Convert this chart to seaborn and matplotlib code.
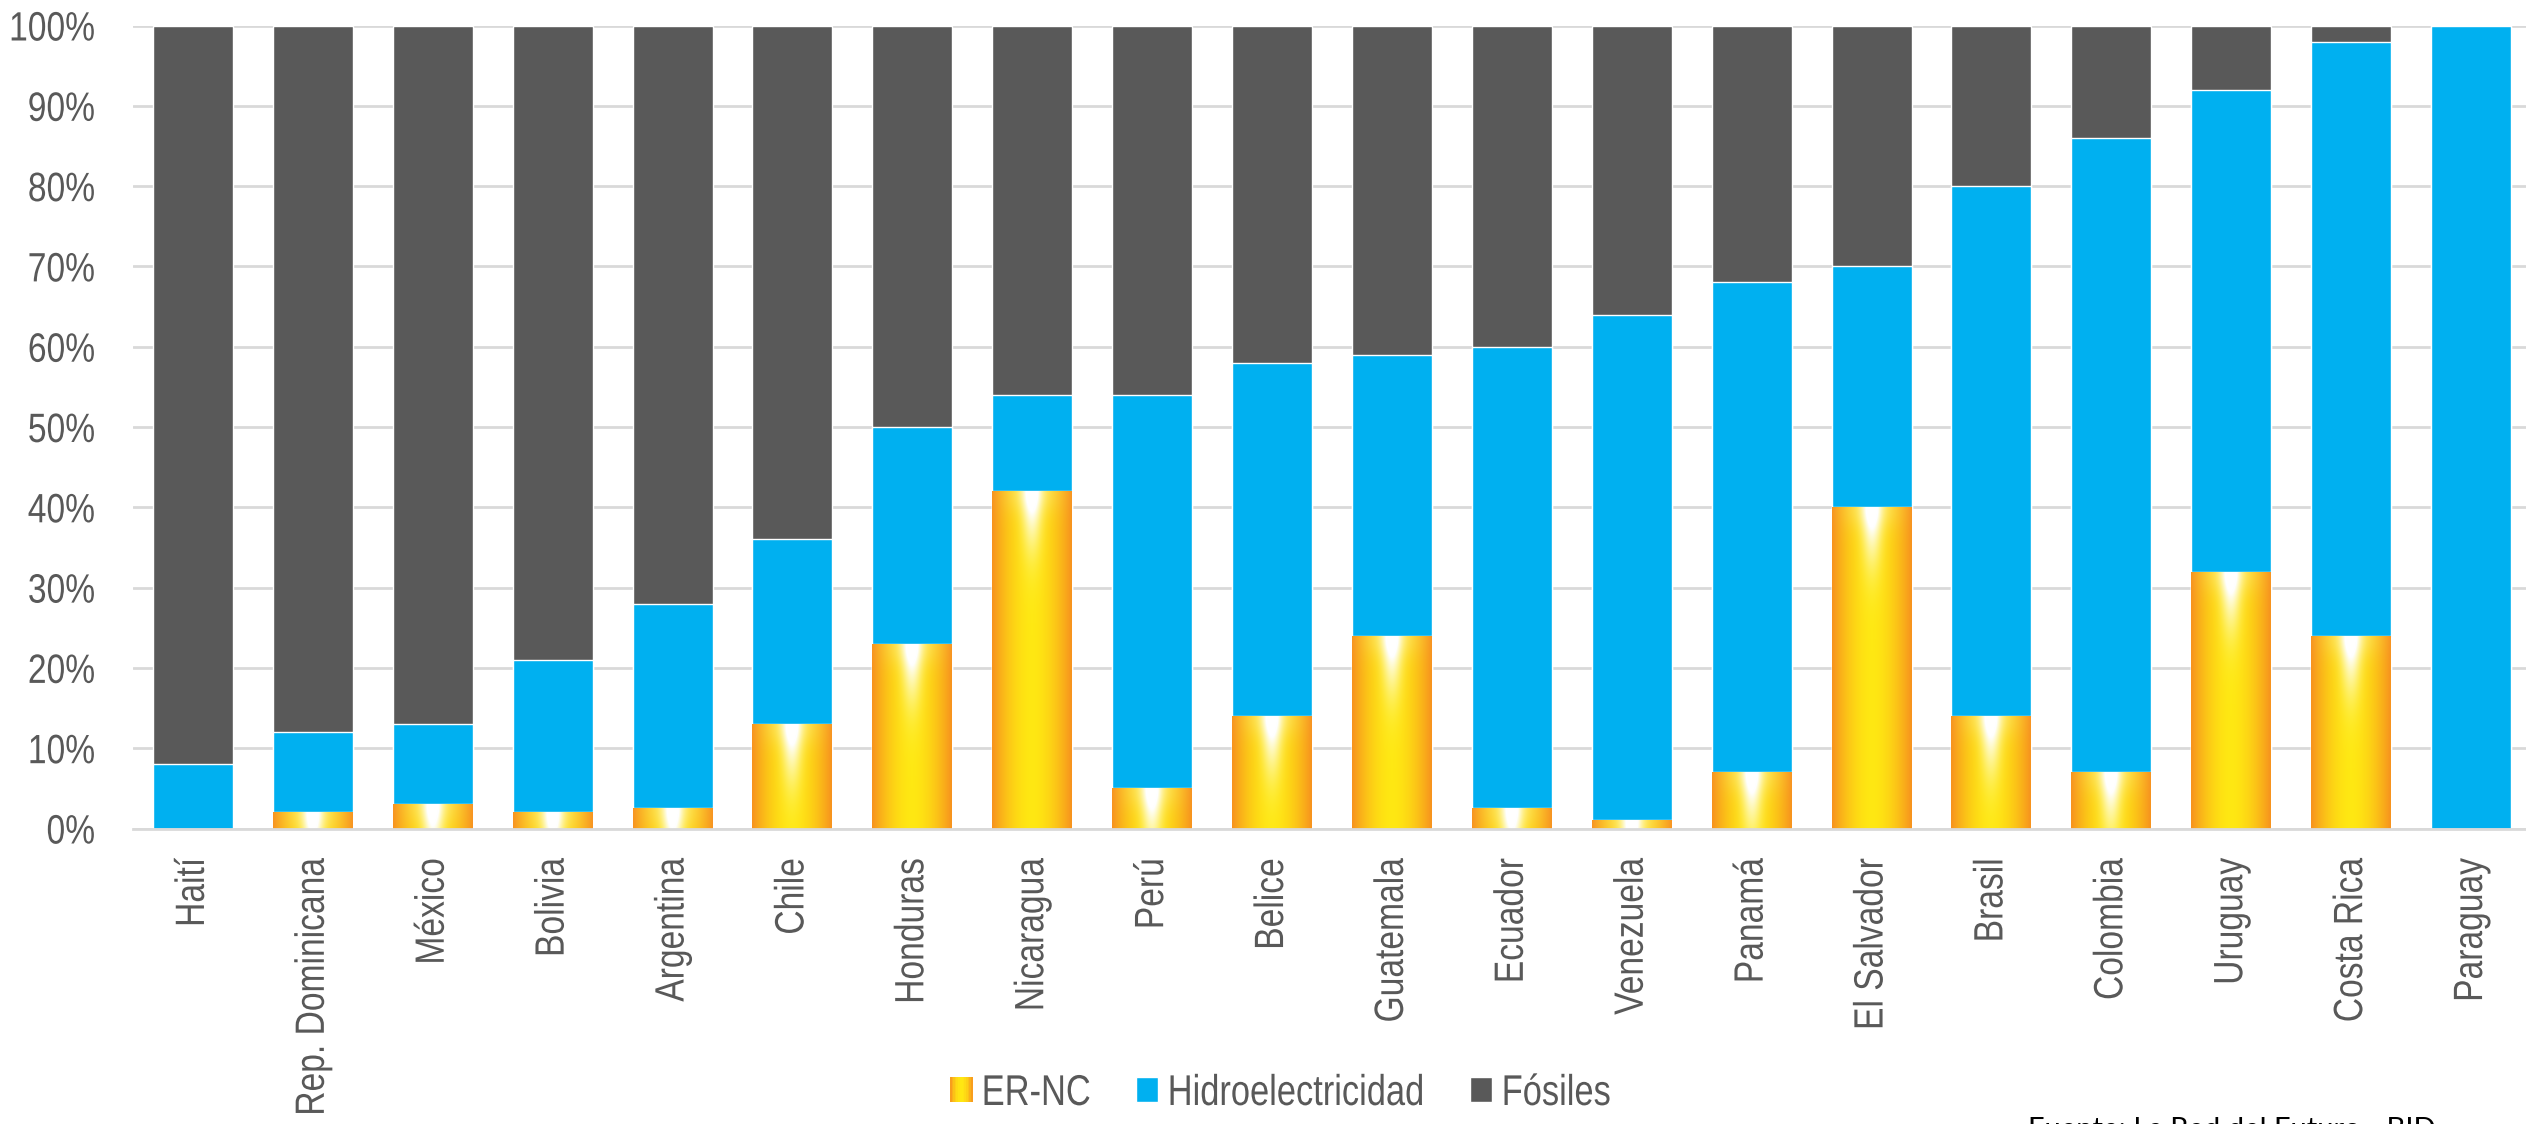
import matplotlib
matplotlib.use("Agg")
import matplotlib.colors as mcolors
import matplotlib.pyplot as plt
import numpy as np
import pandas as pd
import seaborn as sns
from matplotlib.legend_handler import HandlerBase
from matplotlib.patches import Patch, Rectangle
from matplotlib.patheffects import AbstractPathEffect
from matplotlib.transforms import Affine2D


countries = [
    "Haití", "Rep. Dominicana", "México", "Bolivia", "Argentina", "Chile",
    "Honduras", "Nicaragua", "Perú", "Belice", "Guatemala", "Ecuador",
    "Venezuela", "Panamá", "El Salvador", "Brasil", "Colombia", "Uruguay",
    "Costa Rica", "Paraguay",
]
er_nc = [0, 2, 3, 2, 2.5, 13, 23, 42, 5, 14, 24, 2.5, 1, 7, 40, 14, 7, 32, 24, 0]
hidro = [8, 10, 10, 19, 25.5, 23, 27, 12, 49, 44, 35, 57.5, 63, 61, 30, 66, 79, 60, 74, 100]
fosiles = [92, 88, 87, 79, 72, 64, 50, 46, 46, 42, 41, 40, 36, 32, 30, 20, 14, 8, 2, 0]
series_labels = ["ER-NC", "Hidroelectricidad", "Fósiles"]
y_ticks = [0, 10, 20, 30, 40, 50, 60, 70, 80, 90, 100]
source = "Fuente: La Red del Futuro - BID"

ORANGE = "#F7931E"
YELLOW = "#FFE812"
BLUE = "#00B0F0"
DARK = "#595959"
TEXT = "#595959"
GRID = "#D9D9D9"

df = pd.DataFrame({"pais": countries, "er": er_nc, "hidro": hidro, "fos": fosiles})
df["top_hidro"] = df["er"] + df["hidro"]
df["total"] = df["top_hidro"] + df["fos"]

sns.set_theme(style="white")
plt.rcParams["font.family"] = ["Liberation Sans", "DejaVu Sans"]

orange_rgb = np.array(mcolors.to_rgb(ORANGE))
yellow_rgb = np.array(mcolors.to_rgb(YELLOW))


class Condense(AbstractPathEffect):
    """Squeeze glyphs along the reading direction (no Arial Narrow installed)."""

    def __init__(self, factor=0.82, anchor="left"):
        super().__init__()
        self.factor = factor
        self.anchor = anchor

    def draw_path(self, renderer, gc, tpath, affine, rgbFace=None):
        ext = tpath.get_extents()
        x0 = ext.x0 if self.anchor == "left" else ext.x1
        squeeze = Affine2D().translate(-x0, 0).scale(self.factor, 1).translate(x0, 0)
        renderer.draw_path(gc, tpath, squeeze + affine, rgbFace)


def flare_image(height, nx=80, ny=300):
    # orange edges, yellow middle, white glow just under the top edge
    u = np.linspace(0, 1, nx)
    v = np.linspace(height, 0, ny)
    U, V = np.meshgrid(u, v)
    t = np.clip(1 - np.abs(2 * U - 1) ** 1.8, 0, 1)
    rgb = orange_rgb + (yellow_rgb - orange_rgb) * t[..., None]
    depth = height - V
    glow = np.exp(-(((U - 0.5) / 0.12) ** 2 + (depth / 7.0) ** 2))
    halo = 0.35 * np.exp(-(((U - 0.5) / 0.3) ** 2 + (depth / 2.5) ** 2))
    glow = np.clip(glow + halo, 0, 1)
    return rgb + (1 - rgb) * glow[..., None]


class GradientHandler(HandlerBase):
    def create_artists(self, legend, orig_handle, xdescent, ydescent,
                       width, height, fontsize, trans):
        n = 14
        out = []
        for i in range(n):
            t = 1 - abs(2 * (i + 0.5) / n - 1) ** 1.8
            c = orange_rgb + (yellow_rgb - orange_rgb) * t
            out.append(Rectangle((-xdescent + i * width / n, -ydescent), width / n + 0.3,
                                 height, facecolor=c, edgecolor="none", transform=trans))
        return out


W, H = 2526, 1124
fig = plt.figure(figsize=(W / 100, H / 100), dpi=100)
ax = fig.add_axes([133 / W, 1 - 828.5 / H, 2398 / W, 803 / H])

common = dict(data=df, x="pais", saturation=1, width=0.667, errorbar=None, ax=ax)
sns.barplot(y="total", color=DARK, **common)
sns.barplot(y="top_hidro", color=BLUE, **common)
n_before = len(ax.patches)
sns.barplot(y="er", color=ORANGE, **common)
er_patches = ax.patches[n_before:]

for patch, h in zip(er_patches, er_nc):
    if h <= 0:
        continue
    x0 = patch.get_x()
    im = ax.imshow(flare_image(h), extent=(x0, x0 + patch.get_width(), 0, h),
                   aspect="auto", origin="upper", interpolation="bilinear",
                   zorder=patch.get_zorder() + 0.1)
    im.set_clip_path(patch)

ax.set_xlim(-0.5, len(countries) - 0.5)
ax.set_ylim(0, 100)
ax.set_yticks(y_ticks)
ax.set_yticklabels([f"{v}%" for v in y_ticks], fontsize=29.5, color=TEXT)
ax.set_xticks(range(len(countries)))
ax.set_xticklabels(countries, rotation=90, fontsize=29.5, color=TEXT,
                   va="top", ha="center")
for lab in ax.get_yticklabels() + ax.get_xticklabels():
    lab.set_path_effects([Condense(0.82, "right")])
ax.tick_params(axis="y", length=0, pad=27)
ax.tick_params(axis="x", length=0, pad=21)
ax.set_xlabel(None)
ax.set_ylabel(None)

ax.yaxis.grid(True, color=GRID, linewidth=2)
ax.set_axisbelow(True)
for side in ("left", "right", "top"):
    ax.spines[side].set_visible(False)
ax.spines["bottom"].set_color(GRID)
ax.spines["bottom"].set_linewidth(2)

# one legend per entry so the squeezed labels keep the reference spacing
handles = [Patch(label=series_labels[0]),
           Patch(facecolor=BLUE, label=series_labels[1]),
           Patch(facecolor=DARK, label=series_labels[2])]
legend_x = [950, 1136, 1470]
for handle, x_px in zip(handles, legend_x):
    leg = fig.legend(handles=[handle], handler_map={handles[0]: GradientHandler()},
                     loc="center left", bbox_to_anchor=(x_px / W, 1 - 1094 / H),
                     frameon=False, fontsize=31, labelcolor=TEXT,
                     handlelength=0.52, handleheight=0.52, handletextpad=0.2,
                     borderpad=0, borderaxespad=0)
    for txt in leg.get_texts():
        txt.set_path_effects([Condense(0.8, "left")])

fig.text(2028 / W, 1 - 1138 / H, source, fontsize=21,
         family=["Lato", "DejaVu Sans"], color="black", ha="left", va="baseline")

fig.savefig("out.png", dpi=100)
